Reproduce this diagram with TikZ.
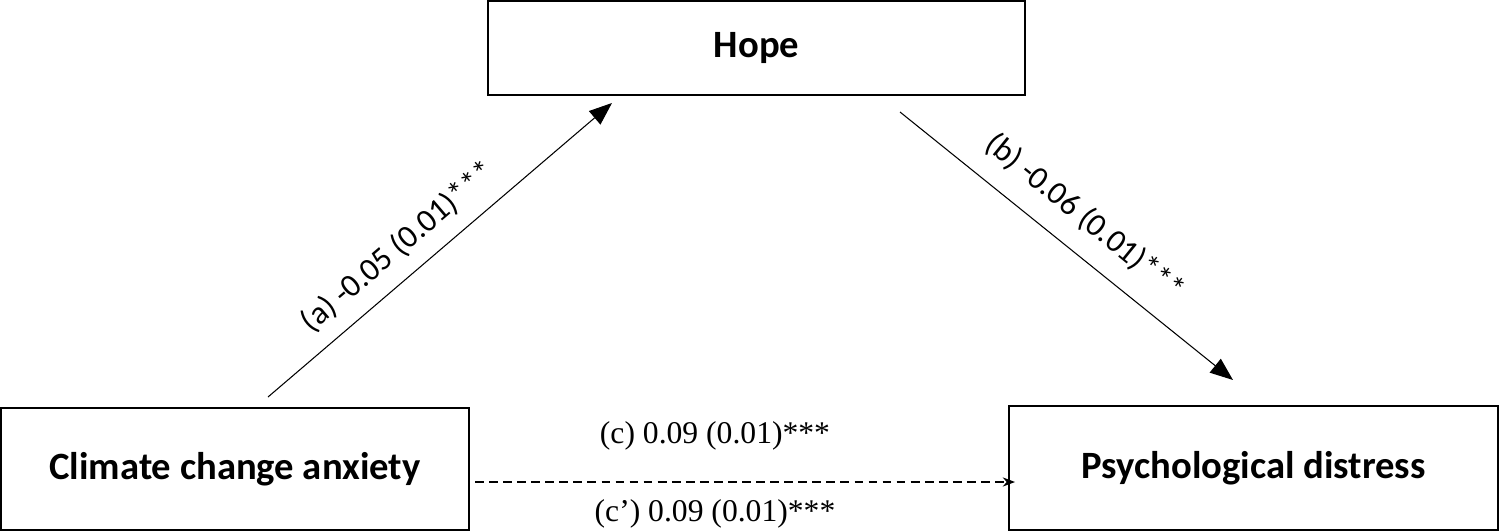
\documentclass[tikz,border=0pt]{standalone}
\usepackage{fontspec}
\setmainfont{Carlito}
\newfontfamily\timesfont{Liberation Serif}
\usetikzlibrary{arrows.meta,positioning}

\begin{document}
\begin{tikzpicture}[x=0.02cm,y=-0.02cm,semithick,
  box/.style={draw=black,thick,rectangle,inner sep=0pt,font=\fontsize{22}{26}\selectfont\bfseries},
  path label/.style={font=\fontsize{18.5}{22}\selectfont,inner sep=2pt},
  direct label/.style={font=\fontsize{18}{22}\selectfont\timesfont}]
\useasboundingbox (0,0) rectangle (1499,531);
\node[box, minimum width=537*0.02cm, minimum height=94*0.02cm] (hope) at (756.5,48) {Hope};
\node[box, minimum width=468*0.02cm, minimum height=122*0.02cm] (cca) at (235,469) {Climate change anxiety};
\node[box, minimum width=489*0.02cm, minimum height=124*0.02cm] (pd) at (1253.5,468) {Psychological distress};
\coordinate (a0) at (268,397);
\coordinate (a1) at (612,103);
\coordinate (b0) at (900,112);
\coordinate (b1) at (1233,380);
\coordinate (c0) at (475,482);
\coordinate (c1) at (1015,482);
% mediation paths
\draw[-{Triangle[length=13pt,width=10pt]}] (a0) -- (a1);
\draw[-{Triangle[length=13pt,width=10pt]}] (b0) -- (b1);
\draw[dash pattern=on 5pt off 3pt,-{Stealth[length=7pt]}] (c0) -- (c1);
\node[path label, rotate=40.5] (alab) at (398,247) {(a) -0.05 (0.01)***};
\node[path label, rotate=-39] (blab) at (1085,217) {(b) -0.06 (0.01)***};
\node[direct label] (clab) at (715,436) {(c) 0.09 (0.01)***};
\node[direct label] (cplab) at (715,514) {(c’) 0.09 (0.01)***};
\end{tikzpicture}
\end{document}
